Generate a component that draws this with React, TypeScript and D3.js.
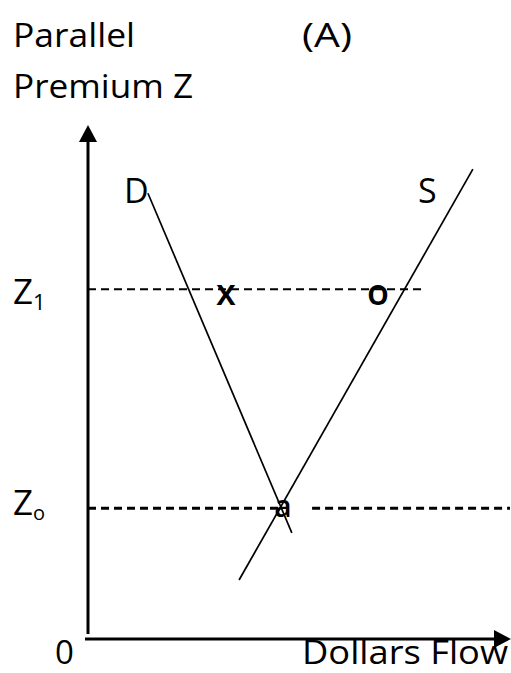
import React from "react";
import * as d3 from "d3";

const W = 511;
const H = 673;

// Data (domain units 0..100)
const premiumLevels = [
  { name: "Z1", z: 68.0, width: 2, segments: [[0, 80.1]] as [number, number][] },
  { name: "Z0", z: 25.3, width: 3, segments: [[0, 45.5], [53.1, 100]] as [number, number][] },
];
const demandCurve: [number, number][] = [
  [14.2, 86.7],
  [48.3, 20.5],
];
const supplyCurve: [number, number][] = [
  [35.8, 11.3],
  [91.2, 91.4],
];
const pointMarks = [
  { label: "x", x: 32.7, z: 68.0 },
  { label: "o", x: 68.7, z: 68.0 },
  { label: "a", x: 46.2, z: 25.3 },
];

const FONT = "'Open Sans', 'DejaVu Sans', sans-serif";

export default function App() {
  const x = d3.scaleLinear().domain([0, 100]).range([88, 510]);
  const y = d3.scaleLinear().domain([0, 100]).range([638, 125]);
  const line = d3
    .line<[number, number]>()
    .x((d) => x(d[0]))
    .y((d) => y(d[1]));

  const x0 = x(0);
  const y0 = y(0);
  const yTop = y(100);
  const xEnd = x(100);

  return (
    <svg
      width={W}
      height={H}
      style={{ position: "absolute", left: 0, top: 0, background: "#fff" }}
      fontFamily={FONT}
    >
      <rect width={W} height={H} fill="#fff" />
      {/* Titles */}
      <text x={13} y={47} fontSize={33} textLength={122} lengthAdjust="spacingAndGlyphs">
        Parallel
      </text>
      <text x={13} y={98} fontSize={33} textLength={180} lengthAdjust="spacingAndGlyphs">
        Premium Z
      </text>
      <text x={302} y={47} fontSize={33} textLength={50} lengthAdjust="spacingAndGlyphs">
        (A)
      </text>

      {/* Axes */}
      <line x1={x0} y1={y0 - 4} x2={x0} y2={yTop + 15} stroke="#000" strokeWidth={3} />
      <path
        d={`M${x0},${yTop} L${x0 - 9},${yTop + 17} L${x0 + 9},${yTop + 17} Z`}
        fill="#000"
      />
      <line x1={x0 - 3} y1={y0 + 1} x2={xEnd - 14} y2={y0 + 1} stroke="#000" strokeWidth={3} />
      <path
        d={`M${xEnd + 1},${y0 + 1} L${xEnd - 16},${y0 - 8} L${xEnd - 16},${y0 + 10} Z`}
        fill="#000"
      />

      {/* Dashed premium levels */}
      {premiumLevels.map((lv) =>
        lv.segments.map((s, i) => (
          <line
            key={lv.name + i}
            x1={x(s[0])}
            x2={x(s[1])}
            y1={y(lv.z)}
            y2={y(lv.z)}
            stroke="#000"
            strokeWidth={lv.width}
            strokeDasharray="8,5"
          />
        ))
      )}

      {/* Curves */}
      <path d={line(demandCurve) || ""} fill="none" stroke="#000" strokeWidth={1.7} />
      <path d={line(supplyCurve) || ""} fill="none" stroke="#000" strokeWidth={1.7} />

      {/* Curve labels */}
      <text x={124} y={203} fontSize={34}>D</text>
      <text x={418} y={203} fontSize={34}>S</text>

      {/* Level labels */}
      <text x={13} y={304} fontSize={35}>
        Z<tspan fontSize={22} dy={6}>1</tspan>
      </text>
      <text x={13} y={515} fontSize={35}>
        Z<tspan fontSize={20} dy={5}>o</tspan>
      </text>

      {/* Point marks */}
      {pointMarks.map((p) => (
        <text
          key={p.label}
          x={x(p.x)}
          y={y(p.z) + (p.label === "a" ? 9 : 16)}
          fontSize={p.label === "a" ? 30 : 36}
          fontWeight={600}
          textAnchor="middle"
        >
          {p.label}
        </text>
      ))}

      {/* Axis labels */}
      <text x={55} y={664} fontSize={33}>0</text>
      <text x={302} y={664} fontSize={33} textLength={206} lengthAdjust="spacingAndGlyphs">
        Dollars Flow
      </text>
    </svg>
  );
}
